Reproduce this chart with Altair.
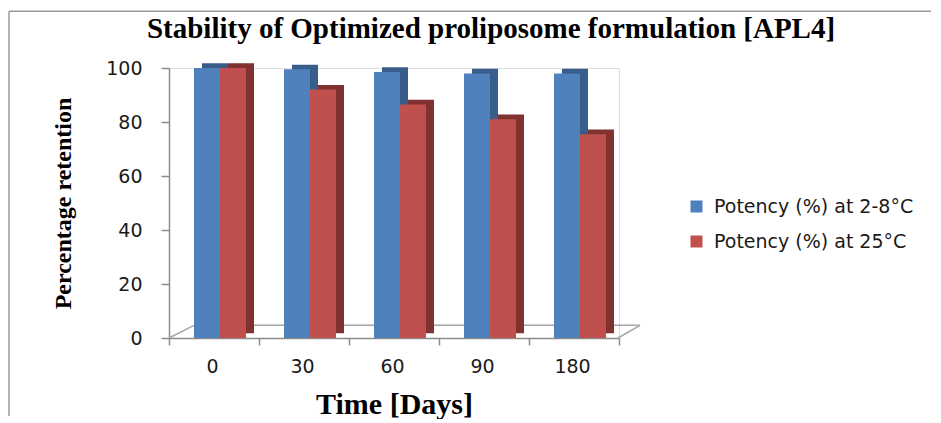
import altair as alt
import pandas as pd

# ---- data ----
days = ["0", "30", "60", "90", "180"]
series_names = ["Potency (%) at 2-8°C", "Potency (%) at 25°C"]
potency_cold = [100, 99.5, 98.5, 98, 98]
potency_room = [100, 92, 86.5, 81, 75.5]
y_ticks = [0, 20, 40, 60, 80, 100]
title_text = "Stability of Optimized proliposome formulation [APL4]"

front_colors = ["#4F81BD", "#C0504D"]
side_colors = ["#385D8A", "#7F3230"]

rows = []
for d, v in zip(days, potency_cold):
    rows.append({"Day": d, "Series": series_names[0], "Value": v})
for d, v in zip(days, potency_room):
    rows.append({"Day": d, "Series": series_names[1], "Value": v})
df = pd.DataFrame(rows)

SERIF = "Liberation Serif"
SANS = "DejaVu Sans"

x_enc = alt.X(
    "Day:N", sort=days,
    scale=alt.Scale(paddingInner=0, paddingOuter=0),
    axis=alt.Axis(
        title="Time [Days]", titleFont=SERIF, titleFontSize=30, titleFontWeight="bold",
        titleColor="#000000", titlePadding=13,
        labelFont=SANS, labelFontSize=19, labelColor="#1a1a1a", labelAngle=0,
        labelPadding=12, labelOffset=-2,
        tickBand="extent", tickSize=7, tickColor="#8c8c8c", tickWidth=1.5,
        domainColor="#8c8c8c", domainWidth=1.5, grid=False,
    ),
)
y_enc = alt.Y(
    "Value:Q",
    scale=alt.Scale(domain=[0, 100]),
    axis=alt.Axis(
        values=y_ticks, title="Percentage retention", titleFont=SERIF, titleFontSize=24,
        titleFontWeight="bold", titleColor="#000000", titlePadding=30,
        labelFont=SANS, labelFontSize=19, labelColor="#1a1a1a", labelPadding=19,
        tickSize=8, tickColor="#8c8c8c", tickWidth=1.5,
        domainColor="#8c8c8c", domainWidth=1.5, grid=False,
    ),
)
color_enc = alt.Color(
    "Series:N",
    scale=alt.Scale(domain=series_names, range=front_colors),
    legend=alt.Legend(
        title=None, orient="none", legendX=518, legendY=129,
        symbolType="square", symbolSize=144, symbolStrokeWidth=0,
        labelFont=SANS, labelFontSize=19, labelColor="#1a1a1a",
        labelOffset=8, rowPadding=15, labelLimit=400,
    ),
)

base = alt.Chart(df).encode(x=x_enc, y=y_enc)

def series_layers(i, shift):
    flt = alt.datum.Series == series_names[i]
    side = base.transform_filter(flt).mark_bar(width=26).encode(
        xOffset=alt.value(shift + 8), yOffset=alt.value(-4.7),
        color=alt.value(side_colors[i]),
    )
    front = base.transform_filter(flt).mark_bar(width=26).encode(
        xOffset=alt.value(shift), color=color_enc,
    )
    return [side, front]

one = alt.Chart(pd.DataFrame({"k": [0]}))
deco_color = "#a6a6a6"
floor_left = one.mark_rule(color=deco_color, strokeWidth=1.5).encode(
    x=alt.value(0), y=alt.value(270), x2=alt.value(25), y2=alt.value(257.3))
floor_back = one.mark_rule(color=deco_color, strokeWidth=1.5).encode(
    x=alt.value(25), y=alt.value(257.3), x2=alt.value(471), y2=alt.value(257.3))
floor_right = one.mark_rule(color=deco_color, strokeWidth=1.5).encode(
    x=alt.value(449), y=alt.value(270), x2=alt.value(471), y2=alt.value(257.3))
frame_left = one.mark_rule(color="#9a9a9a", strokeWidth=1.5).encode(
    x=alt.value(-160), y=alt.value(-56.7), y2=alt.value(348))
frame_top = one.mark_rule(color="#9a9a9a", strokeWidth=1.5).encode(
    x=alt.value(-160), x2=alt.value(762), y=alt.value(-56.7))
title_mark = one.mark_text(
    text=title_text, font=SERIF, fontSize=29, fontWeight="bold", color="#000000",
    align="center", baseline="alphabetic",
).encode(x=alt.value(322), y=alt.value(-29.7))

layers = [frame_left, frame_top, floor_left, floor_back, floor_right, title_mark]
layers += series_layers(0, 38)
layers += series_layers(1, 64)

chart = alt.layer(*layers).properties(
    width=450, height=270,
    padding={"left": 0, "top": 2, "right": 0, "bottom": 0},
).configure_view(stroke=None).configure(background="#ffffff")

chart.save("out.html", embed_options={"renderer": "svg", "actions": False})
